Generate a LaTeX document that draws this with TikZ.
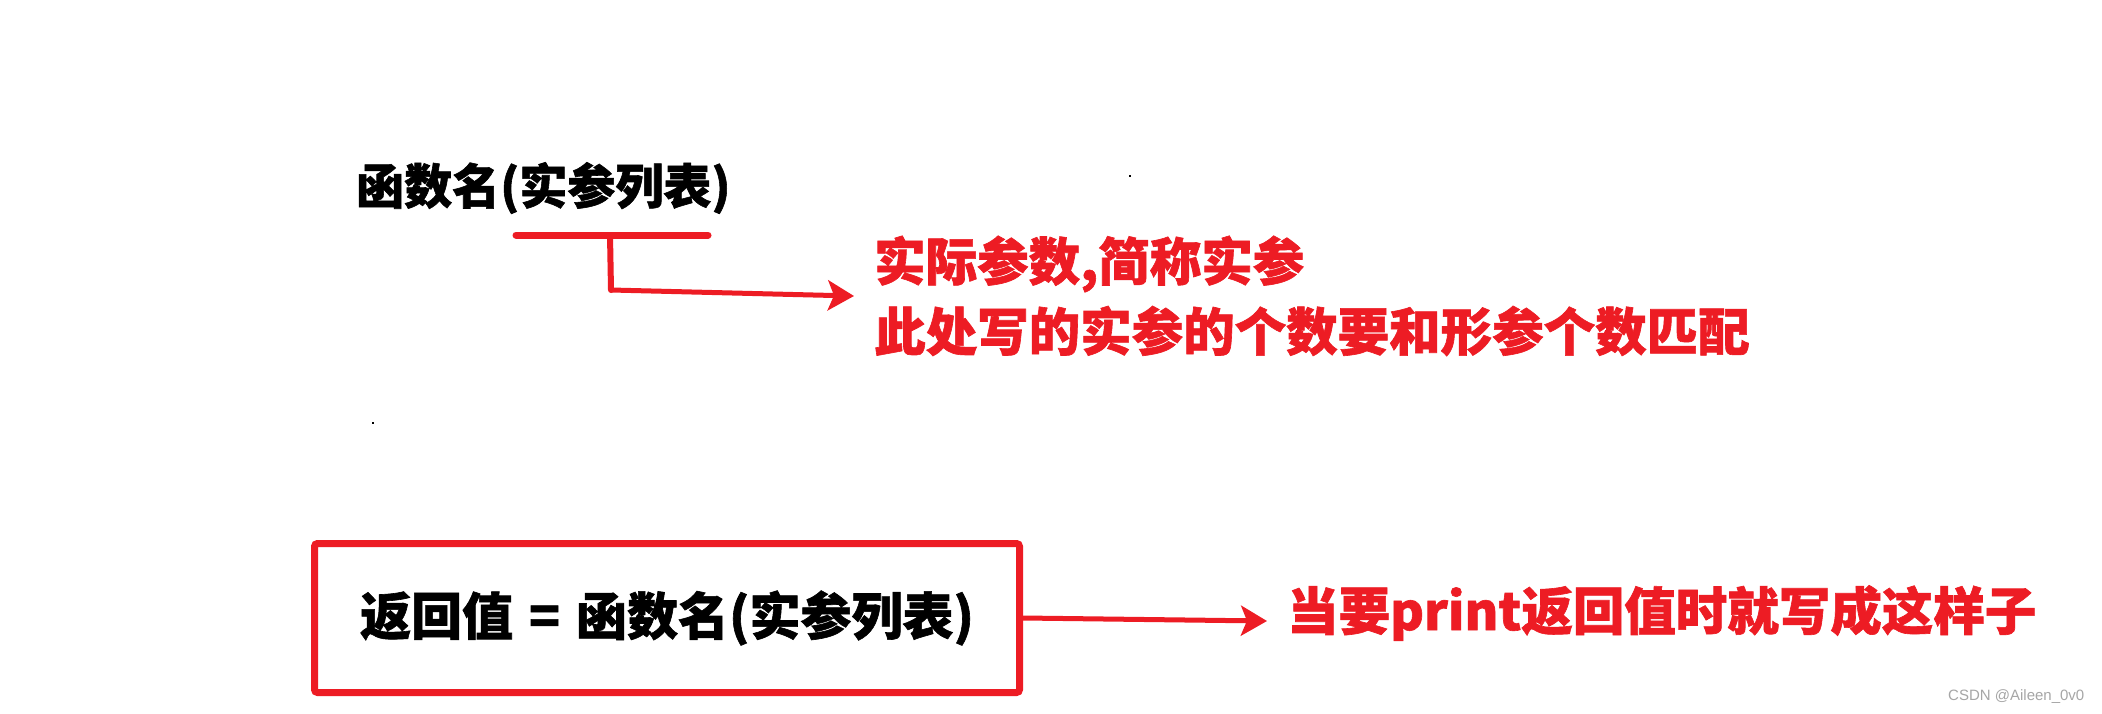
\documentclass[tikz,border=0pt]{standalone}
\usepackage{fontspec}
\setmainfont{Liberation Sans}
\newfontfamily\cjk{Noto Sans CJK SC}[BoldFeatures={FakeBold=1.2}]
\usetikzlibrary{arrows.meta}
\definecolor{myred}{RGB}{237,28,36}
\tikzset{
  blacktxt/.style={font=\cjk\bfseries\fontsize{48}{54}\selectfont, anchor=west, inner sep=0pt},
  redtxt/.style={font=\cjk\bfseries\fontsize{51.5}{58}\selectfont, text=myred, anchor=west, inner sep=0pt},
  redline/.style={draw=myred, line width=7pt, line cap=round},
  redarrow/.style={draw=myred, line width=5pt, -{Stealth[length=26pt,width=30pt,inset=6pt]}},
  redbox/.style={draw=myred, line width=7pt, rounded corners=3pt, minimum width=705pt, minimum height=149pt, inner sep=0pt,
    font=\cjk\bfseries\fontsize{51}{58}\selectfont},
  mark dot/.style={fill=black},
}
\begin{document}
\begin{tikzpicture}[x=1pt,y=-1pt]
\useasboundingbox (0,0) rectangle (2102,713);
\fill[white] (0,0) rectangle (2102,713);
% top call
\node[blacktxt] (call) at (356,188) {函数名(实参列表)};
\coordinate (ul) at (516,235);
\coordinate (ur) at (708,235);
\draw[redline] (ul) -- (ur);
\coordinate (tm) at (610,235);
\coordinate (tb) at (611,290);
\coordinate (tip1) at (854,296);
\draw[redline, line width=6pt] (tm) -- (tb);
\draw[redarrow] (tb) -- (tip1);
\node[redtxt] (note1) at (874,264) {实际参数,简称实参};
\node[redtxt] (note2) at (874,331) {此处写的实参的个数要和形参个数匹配};
% stray dots
\fill[mark dot] (1129,175) rectangle +(2,2);
\fill[mark dot] (372,422) rectangle +(2,2);
% bottom box
\node[redbox] (box) at (667,618) {返回值\hspace{16pt}=\hspace{16pt}函数名(实参列表)};
\coordinate (tip2) at (1267,621);
\draw[redarrow] (box.east) -- (tip2);
\node[redtxt, font=\cjk\bfseries\fontsize{51.5}{58}\selectfont] (note3) at (1287,613) {当要print返回值时就写成这样子};
% watermark
\node[anchor=west, inner sep=0pt, text=gray!70, font=\fontsize{15}{18}\selectfont] (wm) at (1948,697) {CSDN @Aileen\_0v0};
\end{tikzpicture}
\end{document}
